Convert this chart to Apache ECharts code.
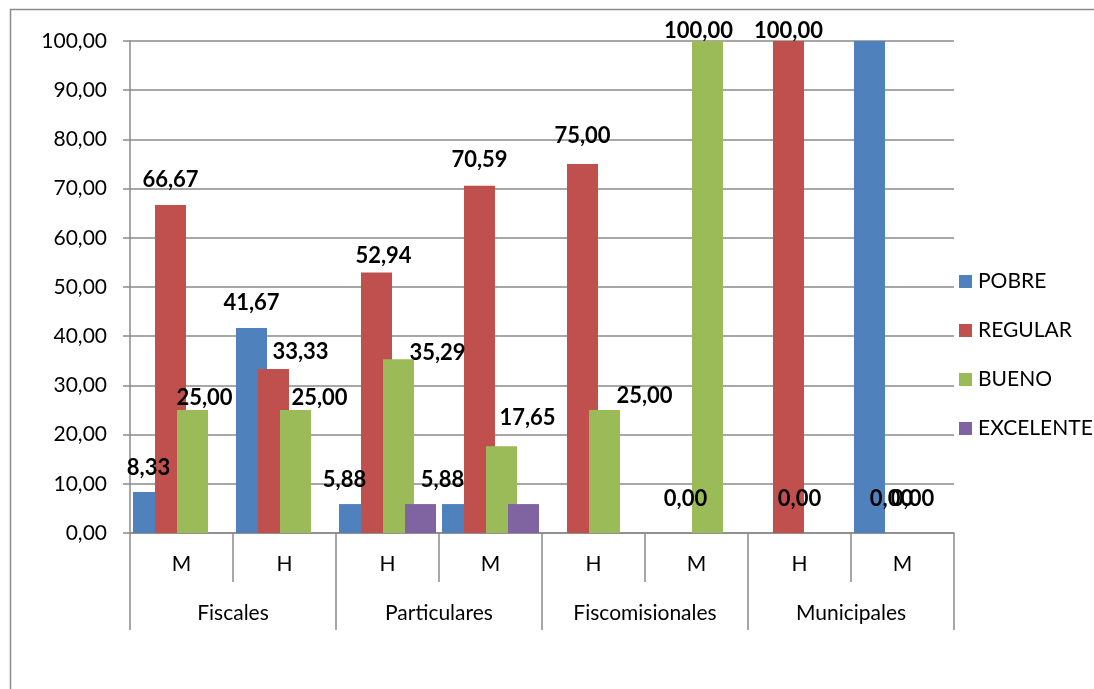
<!DOCTYPE html>
<html>
<head>
<meta charset="utf-8">
<script src="https://cdn.jsdelivr.net/npm/echarts@6/dist/echarts.min.js"></script>
<style>
html,body{margin:0;padding:0;background:#fff;}
#chart{width:1094px;height:689px;}
</style>
</head>
<body>
<div id="chart"></div>
<script>
// ---- data ----
const subCategories = ['M', 'H', 'H', 'M', 'H', 'M', 'H', 'M'];
const groups = ['Fiscales', 'Particulares', 'Fiscomisionales', 'Municipales'];
const seriesNames = ['POBRE', 'REGULAR', 'BUENO', 'EXCELENTE'];
const pobre     = [8.33, 41.67, 5.88, 5.88, null, null, null, 100.00];
const regular   = [66.67, 33.33, 52.94, 70.59, 75.00, 0.00, 100.00, 0.00];
const bueno     = [25.00, 25.00, 35.29, 17.65, 25.00, 100.00, 0.00, 0.00];
const excelente = [null, null, 5.88, 5.88, null, null, null, null];
const yMin = 0, yMax = 100, yStep = 10;

// ---- label placement (as moved in the original; null = label not shown) ----
const labelShiftX = [
  [0, 0, -10, -15, null, null, null, null],
  [0, 27, 7, 0, 0, 0, 0, 0],
  [12, 24, 39, 26, 40, -9, -11, -1],
  [null, null, null, null, null, null, null, null]
];
const labelGap = [
  [17, 18, 17, 17, 0, 0, 0, 0],
  [18, 10, 9, 18, 21, 27, 3, 27],
  [5, 5, -1, 21, 7, 3, 27, 27],
  [0, 0, 0, 0, 0, 0, 0, 0]
];

const colors = ['#4F81BD', '#C0504D', '#9BBB59', '#8064A2'];
const values = [pobre, regular, bueno, excelente];
const gray = '#8a8a8a';
const FONT = 'Lato';
const fmt = v => Number(v).toFixed(2).replace('.', ',');

const series = values.map((arr, si) => ({
  name: seriesNames[si],
  type: 'bar',
  xAxisIndex: 0,
  barWidth: 31,
  barGap: '-29%',
  itemStyle: { color: colors[si] },
  data: arr.map((v, i) => {
    const dx = labelShiftX[si][i];
    const item = { value: v };
    if (v === null || dx === null) {
      item.label = { show: false };
    } else {
      item.label = {
        show: true,
        position: 'top',
        distance: labelGap[si][i] - 3.5,
        offset: [dx, 0],
        formatter: p => fmt(p.value),
        fontFamily: FONT,
        fontWeight: 'bold',
        fontSize: 22,
        color: '#000'
      };
    }
    return item;
  })
}));

const chart = echarts.init(document.getElementById('chart'), null, { renderer: 'canvas' });
chart.setOption({
  animation: false,
  backgroundColor: '#fff',
  textStyle: { fontFamily: FONT },
  graphic: [{
    type: 'rect',
    shape: { x: 10.5, y: 9.5, width: 1300, height: 900 },
    style: { fill: 'none', stroke: gray, lineWidth: 1.5 },
    silent: true
  }],
  grid: { left: 130, right: 140, top: 41, bottom: 156, containLabel: false },
  legend: {
    orient: 'vertical',
    left: 959,
    top: 271,
    padding: 0,
    itemWidth: 13,
    itemHeight: 13,
    itemGap: 28,
    icon: 'rect',
    selectedMode: false,
    data: seriesNames,
    textStyle: { fontFamily: FONT, fontSize: 21, color: '#000', lineHeight: 21, padding: [0, 0, 0, 1] }
  },
  xAxis: [
    {
      type: 'category',
      position: 'bottom',
      data: subCategories,
      axisLine: { show: true, lineStyle: { color: gray, width: 1.5 } },
      axisTick: { show: true, interval: 0, length: 49, lineStyle: { color: gray, width: 1.5 } },
      axisLabel: { interval: 0, margin: 21, fontFamily: FONT, fontSize: 21, color: '#000' },
      splitLine: { show: false }
    },
    {
      type: 'category',
      position: 'bottom',
      offset: 0,
      data: groups,
      axisLine: { show: false },
      axisTick: { show: true, interval: 0, length: 97, lineStyle: { color: gray, width: 1.5 } },
      axisLabel: { interval: 0, margin: 70, fontFamily: FONT, fontSize: 21, color: '#000' },
      splitLine: { show: false }
    }
  ],
  yAxis: {
    type: 'value',
    min: yMin,
    max: yMax,
    interval: yStep,
    axisLine: { show: true, lineStyle: { color: gray, width: 1.5 } },
    axisTick: { show: true, length: 7, lineStyle: { color: gray, width: 1.5 } },
    axisLabel: { margin: 23, formatter: v => fmt(v), fontFamily: FONT, fontSize: 21, color: '#000' },
    splitLine: { show: true, lineStyle: { color: gray, width: 1.5 } }
  },
  series: series
});
</script>
</body>
</html>
